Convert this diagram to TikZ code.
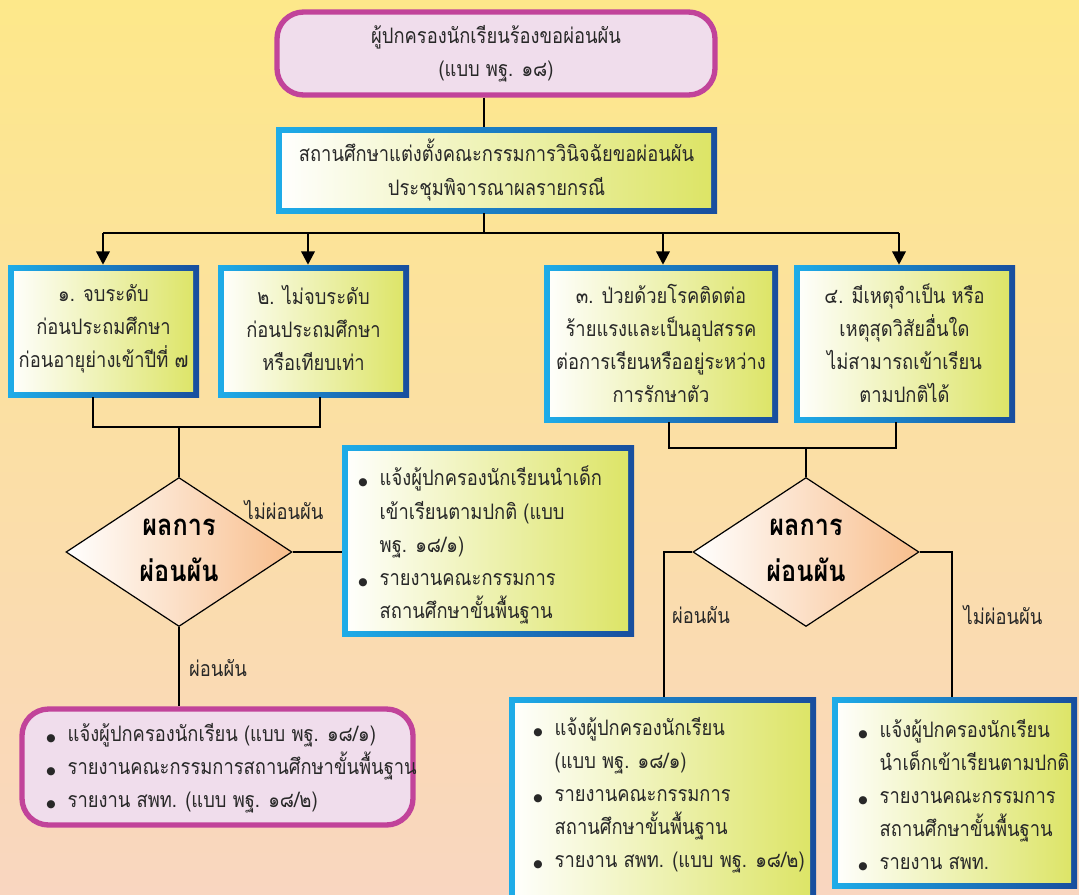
\documentclass[tikz,border=0pt]{standalone}
\usepackage{fontspec}
\setmainfont[Script=Thai,FakeStretch=0.86]{Loma}
\newfontfamily\dejavu{DejaVu Sans}
\usetikzlibrary{shapes.geometric,arrows.meta,fit}
\definecolor{bgtop}{RGB}{253,232,138}
\definecolor{bgmid}{RGB}{252,226,165}
\definecolor{bgbot}{RGB}{249,214,192}
\definecolor{mag}{RGB}{193,67,154}
\definecolor{pinkfill}{RGB}{240,221,236}
\definecolor{fcyan}{RGB}{30,172,232}
\definecolor{fdblue}{RGB}{24,78,158}
\definecolor{yg}{RGB}{220,228,100}
\definecolor{peach}{RGB}{248,190,140}
\definecolor{tcol}{RGB}{40,40,40}
\newcommand\bul{\leavevmode\llap{{\dejavu\fontsize{8}{8}\selectfont ●}\hspace{9pt}}}
\begin{document}
\begin{tikzpicture}[x=0.75pt,y=-0.75pt,
  rbox/.style={rectangle, rounded corners=20pt, draw=mag, line width=4pt, fill=pinkfill, inner sep=0pt},
  gbox/.style={rectangle, inner sep=0pt, left color=fcyan, right color=fdblue,
    path picture={\shade[left color=white, right color=yg]
      ([shift={(4.5pt,4.5pt)}]path picture bounding box.south west) rectangle
      ([shift={(-4.5pt,-4.5pt)}]path picture bounding box.north east);}},
  dia/.style={diamond, draw=black, line width=0.9pt, left color=white, right color=peach,
    inner sep=0pt, minimum width=169.5pt, minimum height=111.75pt},
  dtxt/.style={font=\bfseries\fontsize{22}{34.5}\selectfont, text=black, align=center},
  txt/.style={font=\fontsize{16}{24.8}\selectfont, text=tcol, align=center},
  lst/.style={txt, align=left, anchor=west},
  lbl/.style={font=\fontsize{16}{17}\selectfont, text=tcol},
  conn/.style={line width=1.8pt, draw=black},
  arr/.style={conn, -{Triangle[length=10pt,width=10pt]}}]
\clip (0,0) rectangle (1079,894);
\shade[top color=bgtop, middle color=bgmid, bottom color=bgbot] (0,0) rectangle (1079,894);

% boxes
\node[rbox, fit={(277,12) (715,95)}] (t) {};
\node[txt] (tt) at (t.center) {ผู้ปกครองนักเรียนร้องขอผ่อนผัน\\(แบบ พฐ. ๑๘)};
\node[gbox, fit={(276,127) (717,213)}] (s) {};
\node[txt] (st) at (s.center) {สถานศึกษาแต่งตั้งคณะกรรมการวินิจฉัยขอผ่อนผัน\\ประชุมพิจารณาผลรายกรณี};
\node[gbox, fit={(8,265) (199,397)}] (b1) {};
\node[txt] (b1t) at ([yshift=2pt]b1.center) {๑. จบระดับ\\ก่อนประถมศึกษา\\ก่อนอายุย่างเข้าปีที่ ๗};
\node[gbox, fit={(218,265) (409,397)}] (b2) {};
\node[txt] (b2t) at ([yshift=2pt]b2.center) {๒. ไม่จบระดับ\\ก่อนประถมศึกษา\\หรือเทียบเท่า};
\node[gbox, fit={(544,265) (778,422)}] (b3) {};
\node[txt] (b3t) at (b3.center) {๓. ป่วยด้วยโรคติดต่อ\\ร้ายแรงและเป็นอุปสรรค\\ต่อการเรียนหรืออยู่ระหว่าง\\การรักษาตัว};
\node[gbox, fit={(794,265) (1015,422)}] (b4) {};
\node[txt] (b4t) at (b4.center) {๔. มีเหตุจำเป็น หรือ\\เหตุสุดวิสัยอื่นใด\\ไม่สามารถเข้าเรียน\\ตามปกติได้};

% diamonds
\node[dia] (d1) at (179,552) {};
\node[dtxt] (d1t) at (179,550) {ผลการ\\ผ่อนผัน};
\node[dia] (d2) at (806,552) {};
\node[dtxt] (d2t) at (806,550) {ผลการ\\ผ่อนผัน};

% result boxes
\node[gbox, fit={(342,445) (634,636)}] (n1) {};
\node[lst] (n1t) at (375,545) {\bul แจ้งผู้ปกครองนักเรียนนำเด็ก\\เข้าเรียนตามปกติ (แบบ\\พฐ. ๑๘/๑)\\\bul รายงานคณะกรรมการ\\สถานศึกษาขั้นพื้นฐาน};
\node[rbox, fit={(22,709) (413,825)}] (p1) {};
\node[lst] (p1t) at (63,768) {\bul แจ้งผู้ปกครองนักเรียน (แบบ พฐ. ๑๘/๑)\\\bul รายงานคณะกรรมการสถานศึกษาขั้นพื้นฐาน\\\bul รายงาน สพท. (แบบ พฐ. ๑๘/๒)};
\node[gbox, fit={(509,697) (816,910)}] (m) {};
\node[lst] (mt) at (550,795) {\bul แจ้งผู้ปกครองนักเรียน\\(แบบ พฐ. ๑๘/๑)\\\bul รายงานคณะกรรมการ\\สถานศึกษาขั้นพื้นฐาน\\\bul รายงาน สพท. (แบบ พฐ. ๑๘/๒)};
\node[gbox, fit={(832,697) (1077,888)}] (r) {};
\node[lst] (rt) at (875,795) {\bul แจ้งผู้ปกครองนักเรียน\\นำเด็กเข้าเรียนตามปกติ\\\bul รายงานคณะกรรมการ\\สถานศึกษาขั้นพื้นฐาน\\\bul รายงาน สพท.};

% connectors
\coordinate (v0) at (484,0);
\coordinate (bus) at (484,233);
\coordinate (a1) at (103,233);
\coordinate (a2) at (308,233);
\coordinate (a3) at (663,233);
\coordinate (a4) at (899,233);
\draw[conn] (v0 |- t.south) -- (v0 |- s.north);
\draw[conn] (v0 |- s.south) -- (bus);
\draw[conn] (a1) -- (a4);
\draw[arr] (a1) -- (a1 |- b1.north);
\draw[arr] (a2) -- (a2 |- b2.north);
\draw[arr] (a3) -- (a3 |- b3.north);
\draw[arr] (a4) -- (a4 |- b4.north);

\coordinate (c1) at (93,427);
\coordinate (c2) at (320,427);
\coordinate (j1) at (179,427);
\draw[conn] (c1 |- b1.south) -- (c1) -- (c2) -- (c2 |- b2.south);
\draw[conn] (j1) -- (d1.north);
\draw[conn] (d1.east) -- (n1.west |- d1.east);
\draw[conn] (d1.south) -- (d1.south |- p1.north);

\coordinate (c3) at (669,448);
\coordinate (c4) at (896,448);
\coordinate (j2) at (806,448);
\draw[conn] (c3 |- b3.south) -- (c3) -- (c4) -- (c4 |- b4.south);
\draw[conn] (j2) -- (d2.north);
\coordinate (cl) at (664,0);
\coordinate (cr) at (952,0);
\draw[conn] (d2.west) -| (cl |- m.north);
\draw[conn] (d2.east) -| (cr |- r.north);

% labels
\node[lbl] (l1) at (284,510) {ไม่ผ่อนผัน};
\node[lbl] (l2) at (218,668) {ผ่อนผัน};
\node[lbl] (l3) at (701,615) {ผ่อนผัน};
\node[lbl] (l4) at (1003,615) {ไม่ผ่อนผัน};
\end{tikzpicture}
\end{document}
